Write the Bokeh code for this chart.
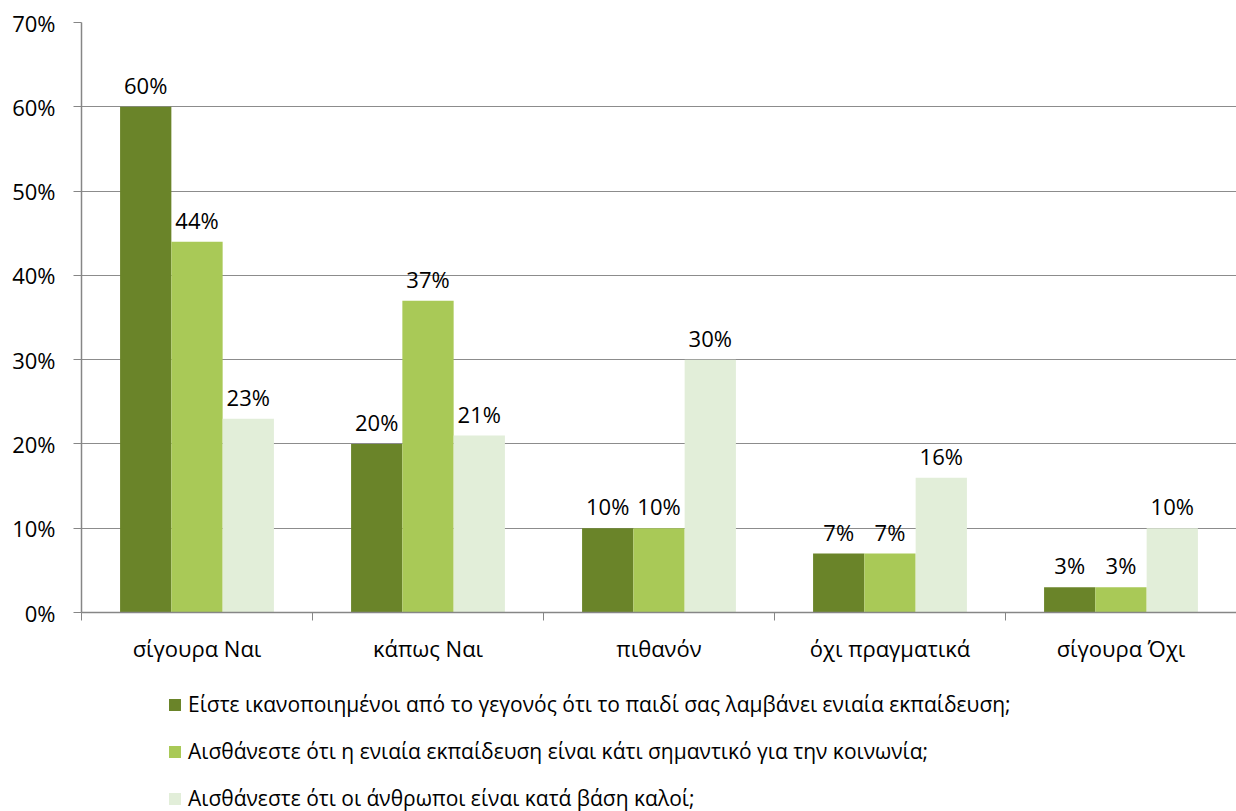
from bokeh.plotting import figure
from bokeh.models import (ColumnDataSource, FixedTicker, NumeralTickFormatter, Legend,
                          LegendItem, LabelSet, Range1d)
from bokeh.layouts import column
from bokeh.transform import dodge
from bokeh.core.properties import value
from bokeh.embed import file_html
from bokeh.resources import INLINE

categories = ["σίγουρα Ναι", "κάπως Ναι", "πιθανόν", "όχι πραγματικά", "σίγουρα Όχι"]
series_names = [
    "Είστε ικανοποιημένοι από το γεγονός ότι το παιδί σας λαμβάνει ενιαία εκπαίδευση;",
    "Αισθάνεστε ότι η ενιαία εκπαίδευση είναι κάτι σημαντικό για την κοινωνία;",
    "Αισθάνεστε ότι οι άνθρωποι είναι κατά βάση καλοί;",
]
satisfied = [0.60, 0.20, 0.10, 0.07, 0.03]
important = [0.44, 0.37, 0.10, 0.07, 0.03]
good_people = [0.23, 0.21, 0.30, 0.16, 0.10]
y_ticks = [0, 0.1, 0.2, 0.3, 0.4, 0.5, 0.6, 0.7]

colors = ["#6A8429", "#A9C957", "#E2EED9"]
FONT = "Open Sans"
FS = "22px"
LEG_FS = "21px"

idx = list(range(len(categories)))
src = ColumnDataSource(dict(
    idx=idx,
    s0=satisfied, s1=important, s2=good_people,
    l0=[f"{round(v*100)}%" for v in satisfied],
    l1=[f"{round(v*100)}%" for v in important],
    l2=[f"{round(v*100)}%" for v in good_people],
))

p = figure(width=1236, height=670,
           x_range=Range1d(-0.5, len(categories) - 0.5),
           y_range=Range1d(0, 0.7),
           output_backend="svg", toolbar_location=None,
           min_border_left=81, min_border_top=22, min_border_right=0,
           min_border_bottom=58)
p.outline_line_color = None
p.background_fill_color = "white"
p.border_fill_color = "white"

bw = 0.222
offsets = [-bw, 0.0, bw]
for k, (col, off) in enumerate(zip(["s0", "s1", "s2"], offsets)):
    p.vbar(x=dodge("idx", off, range=p.x_range), top=col, width=bw, bottom=0,
           source=src, fill_color=colors[k], line_color=None)
    lab = LabelSet(x=dodge("idx", off, range=p.x_range), y=col, text=f"l{k}",
                   source=src, text_align="center", text_baseline="alphabetic",
                   y_offset=13, text_font=value(FONT), text_font_size=value(FS),
                   text_color="#000000")
    p.add_layout(lab)

# y axis
p.yaxis.ticker = FixedTicker(ticks=y_ticks)
p.yaxis.formatter = NumeralTickFormatter(format="0%")
p.yaxis.axis_line_color = "#868686"
p.yaxis.axis_line_width = 1.5
p.yaxis.major_tick_line_color = "#868686"
p.yaxis.major_tick_out = 8
p.yaxis.major_tick_in = 0
p.yaxis.minor_tick_line_color = None
p.yaxis.major_label_standoff = 18
p.yaxis.major_label_text_font = FONT
p.yaxis.major_label_text_font_size = FS
p.yaxis.major_label_text_color = "#000000"

# x axis: labels at category centres, ticks at boundaries
p.xaxis.ticker = FixedTicker(ticks=idx, minor_ticks=[i - 0.5 for i in range(len(categories) + 1)])
p.xaxis.major_label_overrides = {i: c for i, c in zip(idx, categories)}
p.xaxis.axis_line_color = "#868686"
p.xaxis.axis_line_width = 1.5
p.xaxis.major_tick_line_color = None
p.xaxis.major_tick_out = 0
p.xaxis.major_tick_in = 0
p.xaxis.minor_tick_line_color = "#868686"
p.xaxis.minor_tick_out = 8
p.xaxis.minor_tick_in = 0
p.xaxis.major_label_standoff = 12
p.xaxis.major_label_text_font = FONT
p.xaxis.major_label_text_font_size = FS
p.xaxis.major_label_text_color = "#000000"

p.xgrid.grid_line_color = None
p.ygrid.ticker = FixedTicker(ticks=y_ticks)
p.ygrid.grid_line_color = "#8C8C8C"
p.ygrid.grid_line_width = 1

# legend figure below the chart (swatch renderers are zero-size, only used for the legend)
lf = figure(width=1236, height=141, x_range=Range1d(0, 1), y_range=Range1d(0, 1),
            output_backend="svg", toolbar_location=None,
            x_axis_location=None, y_axis_location=None,
            min_border=0, min_border_left=0, min_border_right=0,
            min_border_top=0, min_border_bottom=0)
lf.outline_line_color = None
lf.grid.visible = False
lf.background_fill_color = "white"
lf.border_fill_color = "white"
leg_renderers = [lf.vbar(x=[0.5], top=[0], bottom=[0], width=0, fill_color=c, line_color=None)
                 for c in colors]

legend = Legend(items=[LegendItem(label=n, renderers=[r]) for n, r in zip(series_names, leg_renderers)],
                location=(86, -2), orientation="vertical",
                glyph_width=15, glyph_height=15, label_standoff=6,
                label_height=30, spacing=17, padding=0, margin=0,
                border_line_color=None, background_fill_alpha=0,
                label_text_font=FONT, label_text_font_size=LEG_FS, label_text_color="#000000")
lf.add_layout(legend, "center")

layout = column(p, lf, spacing=0)
open("out.html", "w").write(file_html(layout, INLINE))
